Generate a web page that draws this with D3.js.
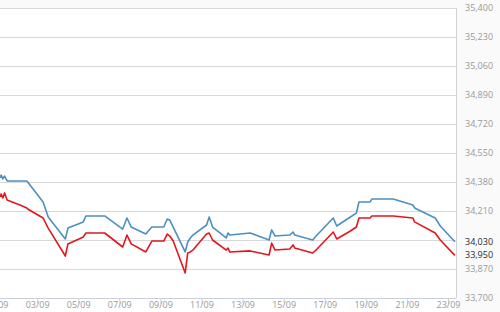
<!DOCTYPE html>
<html>
<head>
<meta charset="utf-8">
<script src="https://cdn.jsdelivr.net/npm/d3@7"></script>
<style>
  html, body { margin: 0; padding: 0; background: #fafafa; }
  svg { display: block; }
  .tick text { font-family: "Open Sans", sans-serif; font-size: 9px; fill: #999; }
</style>
</head>
<body>
<div id="chart"></div>
<script>
// times (day/month hour) shared by both series
var times = ["01/09 05h","01/09 06h","01/09 08h","01/09 10h","01/09 13h","02/09 04h","02/09 12h","02/09 13h",
  "03/09 07h","03/09 13h","04/09 09h","04/09 12h","05/09 06h","05/09 09h","06/09 07h","07/09 04h","07/09 09h",
  "07/09 14h","08/09 07h","08/09 14h","09/09 04h","09/09 08h","09/09 11h","09/09 15h","10/09 05h","10/09 08h",
  "10/09 11h","10/09 14h","11/09 06h","11/09 09h","11/09 13h","12/09 05h","12/09 07h","12/09 09h","13/09 09h",
  "14/09 07h","14/09 10h","14/09 14h","15/09 07h","15/09 11h","15/09 13h","16/09 10h","16/09 15h","17/09 10h",
  "17/09 14h","18/09 06h","18/09 13h","18/09 16h","19/09 05h","19/09 07h","20/09 08h","21/09 07h","21/09 09h",
  "22/09 09h","22/09 15h","23/09 08h"];

var blueValues = [34404,34421,34398,34415,34386,34386,34386,34380,
  34263,34175,34046,34110,34146,34181,34181,34104,34169,
  34116,34075,34116,34116,34163,34157,34116,33970,34028,
  34052,34069,34128,34175,34116,34052,34081,34069,34081,
  34040,34099,34063,34069,34087,34069,34040,34069,34169,
  34122,34175,34198,34263,34263,34280,34280,34245,34228,
  34169,34122,34030];

var redValues = [34292,34310,34286,34316,34274,34245,34228,34222,
  34169,34110,33946,34017,34058,34081,34081,33999,34069,
  34017,33970,34034,34034,34075,34063,34034,33847,33964,
  33970,33981,34075,34081,34040,33981,33993,33970,33976,
  33952,34022,33981,33987,34011,33993,33964,33987,34087,
  34046,34093,34116,34169,34169,34181,34181,34169,34146,
  34081,34040,33950];

var yTicks = [33700,33870,34040,34210,34380,34550,34720,34890,35060,35230,35400];
var lastLabels = [34030, 33950];
var xStart = "01/09 00h", xEnd = "23/09 00h";

var W = 500, H = 312;
var plot = {left: 0, right: 456, top: 8, bottom: 298};

var parseTime = d3.timeParse("%d/%m %Hh");
var fmtNum = d3.format(",");

var x = d3.scaleTime()
    .domain([parseTime(xStart), parseTime(xEnd)])
    .range([-4, 448]);
var y = d3.scaleLinear()
    .domain([33700, 35400])
    .range([plot.bottom, plot.top]);

var svg = d3.select("#chart").append("svg")
    .attr("width", W)
    .attr("height", H);

// plot background
svg.append("rect")
    .attr("x", plot.left).attr("y", plot.top)
    .attr("width", plot.right - plot.left)
    .attr("height", H - plot.top)
    .attr("fill", "#fff");

// horizontal grid
svg.append("g").selectAll("line")
    .data(yTicks.slice(1))
    .enter().append("line")
    .attr("x1", plot.left).attr("x2", plot.right)
    .attr("y1", function(d) { return Math.round(y(d)) + 0.5; })
    .attr("y2", function(d) { return Math.round(y(d)) + 0.5; })
    .attr("stroke", "#d8d8d8");

// right border
svg.append("line")
    .attr("x1", plot.right + 0.5).attr("x2", plot.right + 0.5)
    .attr("y1", plot.top).attr("y2", plot.bottom)
    .attr("stroke", "#d4d4d4");

// x axis
var xAxis = d3.axisBottom(x)
    .ticks(d3.timeDay.every(2))
    .tickFormat(d3.timeFormat("%d/%m"))
    .tickSize(5)
    .tickPadding(-2);

var gx = svg.append("g")
    .attr("transform", "translate(0," + (plot.bottom + 0.5) + ")")
    .call(xAxis);
gx.select(".domain").attr("d", "M" + plot.left + ",0H" + plot.right).attr("stroke", "#c9d0da");
gx.selectAll(".tick line").attr("stroke", "#c9d0da");

// y axis (right side, labels only)
var yAxis = d3.axisRight(y)
    .tickValues(yTicks)
    .tickFormat(function(d) { return d === 34040 ? "" : fmtNum(d); })
    .tickSize(0)
    .tickPadding(9);

var gy = svg.append("g")
    .attr("transform", "translate(" + plot.right + ",0)")
    .call(yAxis);
gy.select(".domain").remove();

// series
var data = times.map(function(t, i) {
    return {date: parseTime(t), blue: blueValues[i], red: redValues[i]};
});

var blueLine = d3.line()
    .x(function(d) { return x(d.date); })
    .y(function(d) { return y(d.blue); });
var redLine = d3.line()
    .x(function(d) { return x(d.date); })
    .y(function(d) { return y(d.red); });

svg.append("path")
    .attr("d", blueLine(data))
    .attr("fill", "none")
    .attr("stroke", "#4b8fc3")
    .attr("stroke-width", 1.6)
    .attr("stroke-linejoin", "round");

svg.append("path")
    .attr("d", redLine(data))
    .attr("fill", "none")
    .attr("stroke", "#e3161d")
    .attr("stroke-width", 1.6)
    .attr("stroke-linejoin", "round");

// last value labels
svg.append("g").selectAll("text")
    .data(lastLabels)
    .enter().append("text")
    .attr("x", plot.right + 9)
    .attr("y", function(d) { return y(d); })
    .attr("dy", "0.32em")
    .attr("font-family", "'Open Sans', sans-serif")
    .attr("font-size", "9px")
    .attr("fill", "#2a2a2a")
    .text(function(d) { return fmtNum(d); });
</script>
</body>
</html>
